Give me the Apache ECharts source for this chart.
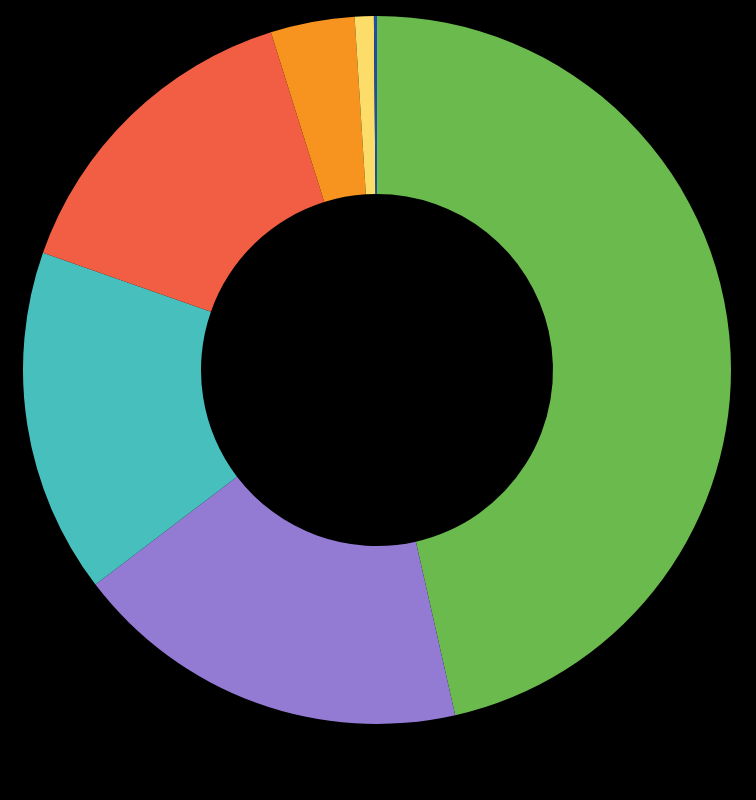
<!DOCTYPE html>
<html>
<head>
<meta charset="utf-8">
<style>
  html, body { margin: 0; padding: 0; background: #000; }
  #chart { width: 756px; height: 800px; }
</style>
<script src="https://cdn.jsdelivr.net/npm/echarts@6/dist/echarts.min.js"></script>
</head>
<body>
<div id="chart"></div>
<script>
  // slice shares, clockwise from 12 o'clock
  var categories = ['A', 'B', 'C', 'D', 'E', 'F', 'G']
  var values = [46.5, 18.2, 15.75, 14.8, 3.84, 0.87, 0.14]
  var colors = ['#6aba4e', '#937bd4', '#47c0bd', '#f15e43', '#f7941f', '#fddd69', '#1e4fa3']

  var chart = echarts.init(document.getElementById('chart'))
  var data = categories.map(function (name, i) {
    return { name: name, value: values[i], itemStyle: { color: colors[i] } }
  })
  chart.setOption({
    backgroundColor: '#000',
    animation: false,
    series: [{
      type: 'pie',
      center: [377, 370],
      radius: [176, 354],
      startAngle: 90,
      clockwise: true,
      label: { show: false },
      labelLine: { show: false },
      itemStyle: { borderWidth: 0 },
      emphasis: { disabled: true },
      data: data
    }]
  })
</script>
</body>
</html>
